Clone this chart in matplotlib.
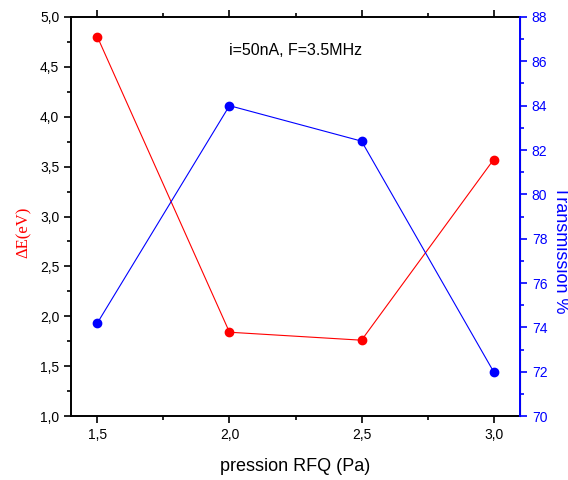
import matplotlib.pyplot as plt
from matplotlib.ticker import FuncFormatter, MultipleLocator

plt.rcParams['font.family'] = ['Liberation Sans', 'DejaVu Sans']

pression = [1.5, 2.0, 2.5, 3.0]
delta_e = [4.80, 1.84, 1.76, 3.57]
transmission = [74.2, 84.0, 82.4, 72.0]

comma = FuncFormatter(lambda v, p: ('%.1f' % v).replace('.', ','))

fig = plt.figure(figsize=(5.68, 4.8), dpi=100)
ax = fig.add_axes([0.125, 0.1333, 0.7905, 0.8313])
ax2 = ax.twinx()

ax.plot(pression, delta_e, color='red', lw=0.8, marker='o', ms=6, zorder=3)
ax2.plot(pression, transmission, color='blue', lw=0.8, marker='o', ms=6, zorder=3)

ax.set_xlim(1.4, 3.1)
ax.set_ylim(1.0, 5.0)
ax2.set_ylim(70, 88)

ax.xaxis.set_major_locator(MultipleLocator(0.5))
ax.xaxis.set_minor_locator(MultipleLocator(0.25))
ax.yaxis.set_major_locator(MultipleLocator(0.5))
ax.yaxis.set_minor_locator(MultipleLocator(0.25))
ax2.yaxis.set_major_locator(MultipleLocator(2))
ax2.yaxis.set_minor_locator(MultipleLocator(1))
ax.xaxis.set_major_formatter(comma)
ax.yaxis.set_major_formatter(comma)

ax.tick_params(axis='x', which='both', direction='out', top=True, labelsize=10, width=1.2)
ax.tick_params(axis='x', which='major', length=5)
ax.tick_params(axis='x', which='minor', length=3)
ax.tick_params(axis='y', which='major', direction='out', length=5, labelsize=10, width=1.2)
ax.tick_params(axis='y', which='minor', direction='out', length=3, width=1.2)
ax2.tick_params(axis='y', which='major', direction='out', length=5, labelsize=10,
                colors='blue', width=1.2)
ax2.tick_params(axis='y', which='minor', direction='out', length=3, colors='blue', width=1.2)

for s in ['left', 'bottom', 'top']:
    ax.spines[s].set_linewidth(1.4)
ax2.spines['right'].set_color('blue')
ax2.spines['right'].set_linewidth(1.4)
ax2.spines['left'].set_visible(False)
ax2.spines['top'].set_visible(False)
ax2.spines['bottom'].set_visible(False)

ax.set_xlabel('pression RFQ (Pa)', fontsize=13, labelpad=12)
ax.set_ylabel('ΔE(eV)', fontsize=12, color='red', family=['Liberation Serif', 'DejaVu Serif'])
ax.yaxis.set_label_coords(-0.088, 0.46)
fig.text(0.987, 0.48, 'Transmission %', rotation=270, color='blue', fontsize=13,
         ha='center', va='center')

ax.text(0.50, 0.915, 'i=50nA, F=3.5MHz', transform=ax.transAxes, fontsize=11.5,
        ha='center', va='center')

fig.savefig('out.png', dpi=100)
